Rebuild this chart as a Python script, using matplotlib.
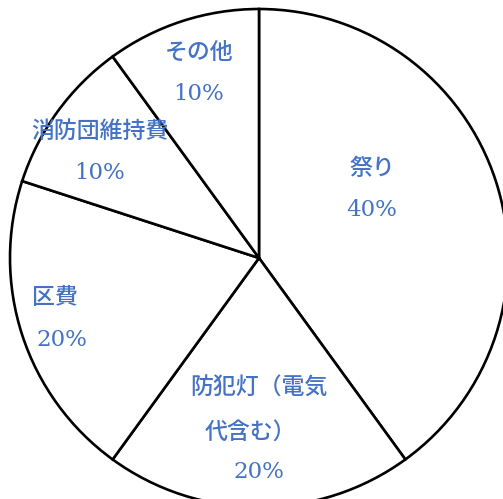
import matplotlib
matplotlib.use("Agg")
import matplotlib.pyplot as plt

# data
categories = ["祭り", "防犯灯（電気\n代含む）", "区費", "消防団維持費", "その他"]
shares = [40, 20, 20, 10, 10]
pct_labels = ["40%", "20%", "20%", "10%", "10%"]

# label layout in figure pixels (x, y from top) for each line of text
label_lines = [
    [("祭り", 372, 168), ("40%", 372, 210)],
    [("防犯灯（電気", 259, 388), ("代含む）", 250, 432), ("20%", 259, 472)],
    [("区費", 55, 298), ("20%", 62, 340)],
    [("消防団維持費", 100, 131), ("10%", 100, 173)],
    [("その他", 199, 52), ("10%", 199, 94)],
]

W, H = 503, 499
BLUE = "#4472C4"
JP = ["Noto Sans CJK JP", "DejaVu Sans"]

fig = plt.figure(figsize=(W / 100, H / 100), dpi=100)
ax = fig.add_axes([0, 0, 1, 1])

ax.pie(shares, startangle=90, counterclock=False, center=(259, H - 258),
       radius=249, colors=["white"] * len(shares),
       wedgeprops=dict(edgecolor="black", linewidth=1.9), frame=True)
ax.set_xlim(0, W)
ax.set_ylim(0, H)
ax.set_aspect("equal")
ax.axis("off")

for lines in label_lines:
    for txt, x, y in lines:
        is_pct = txt in pct_labels
        if is_pct:
            ax.text(x, H - y, txt, ha="center", va="center", color=BLUE,
                    fontsize=16.5, family=["DejaVu Serif"])
        else:
            ax.text(x, H - y, txt, ha="center", va="center", color=BLUE,
                    fontsize=16.5, fontweight="medium", family=JP)

fig.savefig("out.png", dpi=100)
